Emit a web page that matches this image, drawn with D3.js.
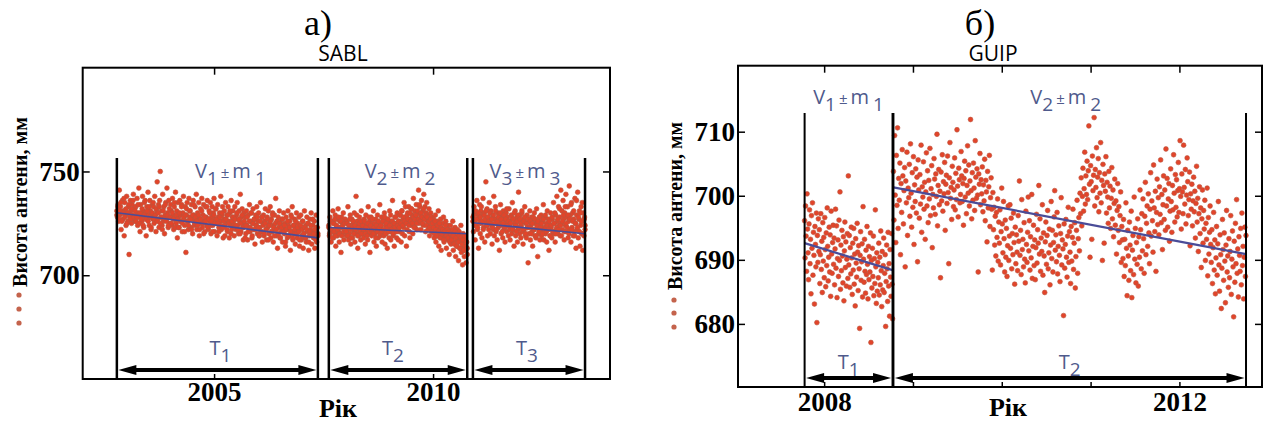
<!DOCTYPE html>
<html>
<head>
<meta charset="utf-8">
<script src="https://cdn.jsdelivr.net/npm/d3@7"></script>
<style>
body { margin: 0; background: #fff; }
svg { display: block; }
</style>
</head>
<body>
<svg id="chart" width="1269" height="423"></svg>
<script>
// ---- SABL (panel a) ----
var sablSegments = [[2002.78, 2007.37], [2007.62, 2010.78], [2010.91, 2013.47]];
var sablTrend = [[730.1, 718.0], [723.0, 720.0], [725.3, 720.0]];
var sablTicksY = [700, 750];
var sablTicksX = [2005, 2010];

// antenna heights, mm; two interleaved passes per segment, each spread evenly over its segment
var sablH1a = "731 728 734 726 741 729 733 722 730 736 727 731 719 735 729 724 738 730 726 733 710 728 736 731 725 734 729 739 727 732 " +
  "726 733 729 737 724 730 742 728 721 734 729 726 738 731 723 735 728 730 719 733 727 740 729 724 736 731 722 729 734 727 " +
  "733 725 738 729 721 731 745 727 734 723 736 750 728 731 724 739 726 733 720 729 735 727 742 730 723 736 728 725 734 731 " +
  "724 737 729 722 733 727 740 725 731 718 735 728 723 736 729 726 734 721 730 738 727 724 733 711 729 735 726 722 737 728 " +
  "731 723 734 727 720 736 729 724 733 726 739 722 730 728 735 719 727 732 725 737 723 729 734 726 721 733 728 724 736 727 " +
  "722 731 726 735 720 728 733 724 730 737 721 727 732 725 719 734 728 723 730 726 738 722 729 733 718 727 731 724 735 726 " +
  "729 721 733 726 718 730 724 736 722 728 731 725 719 733 727 722 729 735 724 720 731 726 739 721 728 732 723 717 730 725 " +
  "728 720 731 724 717 729 723 734 721 726 730 718 725 732 722 727 715 729 724 733 720 726 730 719 723 735 721 728 716 725 " +
  "729 719 726 732 722 717 728 723 731 720 725 733 718 727 721 730 716 724 729 722 737 719 726 713 728 723 731 718 725 721 " +
  "727 716 723 730 720 725 714 728 722 718 731 724 719 726 712 729 721 733 717 724 720 727 715 722 730 718 725 721 728 714 " +
  "723 729 717 722 726 713 720 731 718 724 716 728 721 725 712 719 727 722 730 715 721 724 718 726 713 720 729 716 723 719";
var sablH1b = "729 733 727 731 735 726 730 737 728 732 725 730 734 729 727 732 736 728 731 726 " +
  "728 734 725 730 727 732 724 729 736 727 731 726 733 728 723 730 735 727 729 732 " +
  "726 730 733 725 728 722 731 727 734 726 729 724 732 728 725 730 727 735 723 729 " +
  "727 723 730 726 733 725 728 721 729 732 726 724 731 727 722 729 734 725 728 726 " +
  "724 729 722 727 731 725 720 728 726 733 723 727 730 724 726 721 729 725 732 727 " +
  "725 721 728 724 730 723 726 719 727 722 729 725 731 720 726 728 723 727 724 730 " +
  "722 727 720 725 729 723 726 718 724 728 721 726 723 730 719 725 727 722 724 728 " +
  "723 719 726 721 728 724 720 725 722 727 717 724 726 721 729 723 719 725 722 726 " +
  "720 725 718 723 727 721 724 716 722 726 719 723 721 728 718 724 722 726 720 723 " +
  "721 717 724 719 726 720 723 718 722 725 716 721 724 719 727 720 722 717 723 720";
var sablH2a = "724 719 728 721 716 726 722 731 718 725 720 729 714 723 727 719 732 721 716 726 723 711 728 720 725 730 717 722 727 721 " +
  "719 726 722 733 717 724 720 729 715 723 727 718 725 721 730 716 722 738 720 726 713 724 719 728 722 717 731 723 720 725 " +
  "718 727 722 715 729 721 724 717 733 720 726 711 723 728 719 725 721 731 716 724 720 727 714 722 729 718 725 721 734 719 " +
  "723 728 716 721 726 719 730 715 724 720 727 713 722 725 718 731 721 717 726 723 736 719 724 714 728 721 725 718 730 722 " +
  "717 726 721 729 724 716 731 720 727 723 735 719 725 728 714 722 730 726 733 721 718 727 732 724 729 720 737 725 731 723 " +
  "728 734 722 730 726 741 725 733 729 722 736 727 731 724 739 728 733 721 730 735 726 729 724 732 719 727 730 722 728 725 " +
  "721 727 718 724 729 716 722 726 719 731 714 723 720 727 712 721 725 718 728 716 722 719 726 713 720 724 717 722 710 719 " +
  "724 715 721 718 726 712 720 716 723 709 719 714 722 717 707 721 713 718 724 711 716 705 720 714 709 718 712 706 716 710";
var sablH2b = "723 720 726 722 718 725 721 727 719 724 722 728 720 723 726 719 724 721 725 722 " +
  "721 725 719 724 727 722 718 723 726 720 724 722 729 719 723 725 721 726 720 724 " +
  "722 726 720 723 719 725 728 721 724 722 727 720 723 725 718 724 721 726 723 720 " +
  "724 721 726 722 728 720 725 723 727 721 724 729 722 726 720 725 723 728 721 724 " +
  "726 723 729 725 731 724 728 726 733 725 729 727 724 730 726 732 725 728 723 727 " +
  "729 725 731 727 734 726 730 728 725 732 727 729 724 728 722 726 723 727 721 725 " +
  "723 720 726 722 719 724 721 725 718 723 720 722 717 721 724 719 722 718 721 716 " +
  "720 717 722 719 715 721 718 714 720 716 719 713 718 715 717 712 719 714 716 713";
var sablH3a = "728 721 733 726 717 730 724 736 722 729 713 727 734 720 731 725 718 729 737 723 730 716 726 745 724 732 719 728 722 735 " +
  "726 720 731 724 715 729 722 738 719 727 733 721 725 717 730 723 728 712 726 734 720 724 729 718 731 722 727 716 725 730 " +
  "721 728 724 719 732 726 717 723 729 720 735 722 727 714 725 731 719 724 728 716 722 740 726 720 729 718 724 730 721 715 " +
  "727 722 733 719 725 718 729 723 706 726 720 731 717 724 728 721 714 727 722 730 719 725 718 732 723 709 726 720 728 717 " +
  "724 729 719 726 721 734 717 723 728 720 725 716 731 722 727 712 724 719 730 723 718 727 721 735 720 725 716 729 722 738 " +
  "726 720 733 724 728 719 741 725 731 722 736 727 717 730 724 739 721 728 733 718 726 743 722 729 716 735 723 730 719 727 " +
  "721 737 725 713 729 722 740 718 727 731 714 724 733 720 726 712 730 719 728 722";
var sablH3b = "726 729 724 731 727 723 730 725 728 733 726 722 729 727 731 724 728 726 730 725 " +
  "727 723 729 725 731 722 726 728 724 730 727 721 725 729 723 727 732 724 726 722 " +
  "725 728 722 727 730 724 721 726 729 723 727 725 731 722 726 728 720 725 723 727 " +
  "723 726 720 725 728 722 727 719 724 726 721 728 723 725 720 727 722 729 721 724 " +
  "722 726 719 724 728 721 725 730 720 723 727 722 732 724 719 726 729 721 733 725 " +
  "723 729 720 727 734 722 726 731 719 725 736 723 728 721 730 726 735 720 727 724";

// ---- GUIP (panel b) ----
var guipSegments = [[2007.78, 2008.77], [2008.78, 2012.75]];
var guipTrend = [[692.6, 688.4], [701.3, 690.9]];
var guipTicksY = [680, 690, 700, 710];
var guipTicksX = [2008, 2009, 2010, 2011, 2012];
var guipLabelsX = [2008, 2012];

var guipH1 = "696.1 690.3 698.4 693.7 688.2 700.3 694.8 691.1 686.9 695.6 697.8 689.4 693.2 684.7 696.9 691.8 698.9 687.6 694.3 690.7 683.1 695.2 692.4 688.9 697.3 680.2 693.8 689.6 696.4 691.3 " +
  "694.7 686.3 690.8 697.2 688.5 692.9 684.9 695.8 689.8 693.5 687.2 696.6 691.6 685.8 694.2 689.1 698.1 692.1 686.7 690.4 695.1 688.1 693.9 684.3 697.6 690.9 687.9 692.7 695.4 689.3 " +
  "693.4 686.1 691.7 697.9 688.7 695.3 684.1 690.2 693.1 687.4 696.2 689.9 700.6 685.4 692.3 688.3 694.6 690.6 686.4 693.6 683.6 691.4 695.9 688.8 692.8 685.9 690.1 694.1 687.1 703.1 " +
  "689.2 693.8 685.7 691.9 687.8 695.1 690.3 684.6 692.6 688.4 694.9 686.2 690.9 682.8 693.3 689.5 687.3 695.7 691.2 685.2 692.2 688.6 679.3 690.7 694.4 686.8 689.7 692.5 684.2 698.3 " +
  "690.1 686.5 693.2 688.2 684.8 691.5 687.7 695.2 689.3 683.9 692.1 686.9 690.5 688.1 694.2 677.1 689.9 685.6 691.8 687.4 693.7 684.4 690.2 686.3 697.8 688.9 683.2 691.1 685.1 689.6 " +
  "687.2 692.6 684.5 690.4 686.1 694.5 688.3 682.7 691.3 685.3 689.1 693.4 684.9 687.9 690.8 679.6 686.6 692.3 688.6 683.5 694.3 685.9 689.4 681.2 691.6 687.3 684.3 694.1 686.2 680.8";
var guipH2 = "703.8 696.2 709.4 700.1 692.7 706.3 698.5 710.6 694.9 702.7 699.3 705.1 690.8 701.9 697.4 707.2 703.1 695.6 700.8 704.4 688.9 702.3 698.9 706.8 693.8 701.2 699.7 704.9 696.8 708.1 " +
  "700.4 695.1 703.6 698.2 706.1 692.4 701.7 699.1 704.2 697.3 702.9 689.7 705.6 700.9 696.5 703.3 698.7 707.9 694.3 701.4 699.8 705.3 697.9 702.1 693.2 700.6 706.7 698.4 703.9 695.8 " +
  "702.4 699.5 707.4 696.9 701.1 704.7 691.9 700.2 698.1 705.8 702.6 697.1 703.4 699.9 709.6 695.3 701.6 704.1 698.6 700.7 687.2 703.7 699.2 706.4 697.6 702.2 700.3 705.2 694.6 701.8 " +
  "703.2 698.8 706.2 700.5 689.4 702.8 708.3 699.6 701.3 696.3 704.6 702.1 698.3 700.9 705.9 697.8 703.5 699.4 710.3 701.5 696.7 704.3 702.5 698.9 700.2 706.9 703.1 699.1 701.9 695.4 " +
  "702.7 705.4 699.8 703.9 697.2 701.6 707.8 700.4 704.8 698.4 702.3 711.9 700.8 696.4 703.6 699.3 705.1 701.2 697.7 708.6 702.9 699.6 704.2 700.1 688.1 703.4 701.8 706.6 698.6 702.5 " +
  "700.3 704.5 697.5 701.7 699.2 705.7 696.1 702.4 700.6 692.8 703.8 698.1 701.4 706.3 695.2 699.7 702.8 697.9 688.4 700.5 694.7 698.2 692.3 696.8 690.6 697.4 693.5 699.5 689.8 695.9 " +
  "692.6 697.8 689.2 694.4 701.2 695.6 691.1 699.1 693.3 688.1 696.2 690.4 694.9 687.4 692.2 698.4 689.9 693.7 698.6 691.8 696.5 688.6 694.1 690.8 697.3 692.7 686.2 695.1 689.4 693.9 " +
  "691.2 688.3 696.9 692.9 702.3 690.7 694.6 687.7 699.4 691.6 693.2 688.9 695.8 690.1 686.4 697.6 692.4 689.6 694.3 699.8 691.4 696.1 688.4 693.6 690.3 700.2 687.1 692.1 695.4 689.1 " +
  "693.1 686.9 691.9 697.1 689.5 694.7 692.6 701.6 690.9 696.4 688.2 693.4 691.3 698.6 687.6 694.2 690.6 684.9 692.8 695.9 689.3 693.8 697.7 688.6 691.1 694.8 686.1 692.3 699.1 690.2 " +
  "694.6 688.1 692.7 696.7 700.8 691.5 693.9 689.7 697.4 687.8 692.1 695.3 690.7 686.6 694.1 699.7 689.2 693.1 691.7 681.3 695.6 688.7 692.4 696.3 690.4 687.3 693.7 698.2 689.6 694.4 " +
  "691.2 686.3 695.2 689.8 693.5 697.9 688.5 692.6 695.8 685.6 690.5 694.6 699.3 687.9 693.3 696.6 691.4 700.4 697.2 702.8 695.3 699.9 704.3 697.6 701.1 706.8 698.7 703.1 700.2 705.4 " +
  "699.4 703.9 710.9 701.8 690.4 704.7 702.2 693.2 706.2 700.8 703.2 712.2 698.4 704.1 701.3 707.5 699.7 702.9 705.8 697.5 703.6 700.4 708.3 698.9 702.4 689.9 704.9 701.6 692.6 703.4 " +
  "700.7 706.1 697.3 702.1 699.8 695.7 703.8 698.1 701.5 694.9 699.6 704.4 696.4 700.9 693.6 698.8 702.6 695.4 699.2 690.9 697.7 701.9 694.6 698.3 692.7 696.9 700.6 689.6 695.2 693.1 " +
  "690.2 696.3 687.4 693.2 689.1 698.9 691.8 684.4 694.6 690.6 686.8 695.9 692.3 688.3 697.6 684.1 691.5 693.8 687.7 699.8 690.1 694.9 686.4 692.7 689.3 696.4 685.9 693.6 690.4 700.9 " +
  "694.7 688.6 697.2 691.4 699.5 693.3 687.9 696.8 702.1 690.8 695.7 698.4 692.1 700.3 694.2 689.4 697.9 703.6 693.7 699.2 696.1 691.2 704.8 698.1 694.4 700.7 688.2 697.4 702.6 695.5 " +
  "699.7 693.9 701.4 697.1 705.6 695.8 700.2 691.6 698.6 703.1 696.3 700.9 694.6 707.3 698.4 702.7 695.1 699.5 701.9 692.9 697.6 704.2 699.1 694.3 701.6 697.8 706.4 700.4 695.9 703.3 " +
  "698.2 702.5 696.7 700.8 705.2 697.4 701.1 708.6 699.9 694.8 703.4 700.6 697.2 707.9 701.3 698.7 704.1 695.6 700.1 705.9 702.2 696.9 699.4 703.7 692.2 700.3 697.9 701.8 695.3 699.2 " +
  "702.9 697.5 700.7 693.4 698.8 704.6 695.9 699.6 691.3 697.2 701.4 694.1 698.1 688.8 696.4 700.9 692.6 697.7 694.8 699.3 689.9 695.7 693.2 701.2 687.5 696.6 690.9 694.3 698.4 692.4 " +
  "689.6 694.7 686.3 691.9 697.4 688.4 693.1 684.7 690.3 695.2 687.6 692.5 699.1 689.2 685.1 693.9 690.8 682.4 688.7 696.3 691.6 686.8 694.2 689.8 683.3 692.3 697.7 688.1 690.6 685.7 " +
  "693.3 687.2 691.3 696.9 684.6 690.1 694.5 688.9 681.1 692.9 686.5 695.7 689.4 699.4 687.9 691.7 684.2 693.6 690.7 688.2 694.9 686.1 697.3 689.1 692.1 683.9 690.4 695.1 687.4 693.8";

var yLabel = "Висота антени, мм";
var xLabel = "Рік";

var svg = d3.select('#chart');
svg.append('rect').attr('width', 1269).attr('height', 423).attr('fill', '#fff');

var serif = '"Liberation Serif", "Times New Roman", serif',
    sans = '"Open Sans", "Liberation Sans", sans-serif',
    dotFill = '#e2442a', dotStroke = '#bb543d',
    labelBlue = '#4f5a8c', trendBlue = '#4a4c98';

function parse(s) { return s.trim().split(/\s+/).map(Number); }

// spread values evenly over their segment (daily-type sampling)
function toPoints(values, seg) {
    var n = values.length;
    return values.map(function (v, i) {
        return { t: seg[0] + i * (seg[1] - seg[0]) / (n - 1), h: v };
    });
}

function arrowPath(x1, x2, y) {
    var hl = 18, hh = 5, t = 2;
    return 'M' + x1 + ',' + y +
        'L' + (x1 + hl) + ',' + (y - hh) + 'L' + (x1 + hl) + ',' + (y - t) +
        'L' + (x2 - hl) + ',' + (y - t) + 'L' + (x2 - hl) + ',' + (y - hh) +
        'L' + x2 + ',' + y +
        'L' + (x2 - hl) + ',' + (y + hh) + 'L' + (x2 - hl) + ',' + (y + t) +
        'L' + (x1 + hl) + ',' + (y + t) + 'L' + (x1 + hl) + ',' + (y + hh) + 'Z';
}

// "V1 ± m1" / "T1" style labels with subscripts
function subLabel(g, x, y, letter, idx, withM) {
    var txt = g.append('text')
        .attr('x', x).attr('y', y)
        .attr('text-anchor', 'middle')
        .attr('fill', labelBlue)
        .style('font-family', sans)
        .style('font-size', '20px');
    txt.append('tspan').text(letter);
    txt.append('tspan').attr('dy', 7).style('font-size', '19px').text(idx);
    if (withM) {
        txt.append('tspan').attr('dy', -7).attr('dx', 3).style('font-size', '15px').text('±');
        txt.append('tspan').attr('dx', 3).text('m');
        txt.append('tspan').attr('dy', 7).attr('dx', 4).style('font-size', '19px').text(idx);
    }
}

function drawPanel(cfg) {
    var g = svg.append('g');
    var x = d3.scaleLinear().domain(cfg.xDomain).range([cfg.left, cfg.right]),
        y = d3.scaleLinear().domain(cfg.yDomain).range([cfg.bottom, cfg.top]);

    // titles
    g.append('text').attr('x', cfg.titleX).attr('y', 35).attr('text-anchor', 'middle')
        .style('font-family', serif).style('font-size', '36px').text(cfg.title);
    g.append('text').attr('x', cfg.nameX).attr('y', 61).attr('text-anchor', 'middle')
        .style('font-family', sans).style('font-size', '21px').text(cfg.name);

    // scatter
    cfg.series.forEach(function (passes, k) {
        passes.forEach(function (s) {
            var pts = toPoints(parse(s), cfg.segments[k]);
            g.append('g').selectAll('circle').data(pts).enter().append('circle')
                .attr('cx', function (d) { return x(d.t); })
                .attr('cy', function (d) { return y(d.h); })
                .attr('r', cfg.r)
                .attr('fill', dotFill)
                .attr('stroke', dotStroke)
                .attr('stroke-width', 0.6);
        });
    });

    // trend lines
    cfg.trend.forEach(function (tr, k) {
        var seg = cfg.segments[k];
        g.append('line')
            .attr('x1', x(seg[0])).attr('y1', y(tr[0]))
            .attr('x2', x(seg[1])).attr('y2', y(tr[1]))
            .attr('stroke', trendBlue).attr('stroke-width', cfg.trendW);
    });

    // segment borders, arrows, labels
    var borders = [];
    cfg.segments.forEach(function (seg) { borders.push(seg[0], seg[1]); });
    g.selectAll('line.seg').data(borders).enter().append('line')
        .attr('class', 'seg')
        .attr('x1', function (d) { return x(d); }).attr('x2', function (d) { return x(d); })
        .attr('y1', cfg.segTop).attr('y2', cfg.bottom)
        .attr('stroke', '#000').attr('stroke-width', cfg.segW);

    cfg.segments.forEach(function (seg, k) {
        var x1 = x(seg[0]) + 1.5, x2 = x(seg[1]) - 1.5, cx = (x(seg[0]) + x(seg[1])) / 2;
        g.append('path').attr('d', arrowPath(x1, x2, cfg.arrowY)).attr('fill', '#000');
        subLabel(g, cx + (cfg.tShift[k] || 0), cfg.tY, 'T', k + 1, false);
        subLabel(g, cx + (cfg.vShift[k] || 0), cfg.vY, 'V', k + 1, true);
    });

    // frame
    g.append('rect')
        .attr('x', cfg.left).attr('y', cfg.top)
        .attr('width', cfg.right - cfg.left).attr('height', cfg.bottom - cfg.top)
        .attr('fill', 'none').attr('stroke', '#000').attr('stroke-width', 2);

    // axes, inward ticks
    var yAxisL = g.append('g').attr('transform', 'translate(' + cfg.left + ',0)')
        .call(d3.axisLeft(y).tickValues(cfg.ticksY).tickSize(-7).tickPadding(3).tickFormat(d3.format('d')));
    var yAxisR = g.append('g').attr('transform', 'translate(' + cfg.right + ',0)')
        .call(d3.axisRight(y).tickValues(cfg.ticksY).tickSize(-7).tickFormat(''));
    var xAxisT = g.append('g').attr('transform', 'translate(0,' + cfg.top + ')')
        .call(d3.axisTop(x).tickValues(cfg.ticksX).tickSize(-7).tickFormat(''));
    var xAxisB = g.append('g').attr('transform', 'translate(0,' + cfg.bottom + ')')
        .call(d3.axisBottom(x).tickValues(cfg.ticksX).tickSize(-5).tickPadding(cfg.xPad)
            .tickFormat(function (d) { return cfg.labelsX.indexOf(d) >= 0 ? d : ''; }));
    [yAxisL, yAxisR, xAxisT, xAxisB].forEach(function (a) {
        a.attr('font-family', serif).attr('font-size', 27).attr('font-weight', 'bold');
        a.select('.domain').remove();
        a.selectAll('.tick line').attr('stroke', '#000').attr('stroke-width', 1.5);
        a.selectAll('text').attr('fill', '#000')
            .style('font-family', serif).style('font-size', '27px').style('font-weight', 'bold');
    });

    // axis titles
    g.append('text').attr('x', cfg.rikX).attr('y', cfg.rikY).attr('text-anchor', 'middle')
        .style('font-family', serif).style('font-size', '26px').style('font-weight', 'bold')
        .text(xLabel);
    g.append('text')
        .attr('transform', 'translate(' + cfg.yLabX + ',' + cfg.yLabY + ') rotate(-90)')
        .attr('text-anchor', 'middle')
        .attr('textLength', cfg.yLabLen).attr('lengthAdjust', 'spacingAndGlyphs')
        .style('font-family', serif).style('font-size', '20px').style('font-weight', 'bold')
        .text(yLabel);
    cfg.legendDots.forEach(function (dy) {
        g.append('circle').attr('cx', cfg.yLabX - 8).attr('cy', dy).attr('r', 2.6).attr('fill', '#c4634c');
    });
}

drawPanel({
    title: 'а)', titleX: 318, name: 'SABL', nameX: 343,
    xDomain: [2002, 2014.04], yDomain: [650, 800],
    left: 82.7, right: 610, top: 67.7, bottom: 379,
    series: [[sablH1a, sablH1b], [sablH2a, sablH2b], [sablH3a, sablH3b]],
    segments: sablSegments, trend: sablTrend,
    ticksY: sablTicksY, ticksX: sablTicksX, labelsX: sablTicksX,
    r: 2.4, trendW: 1.6, segW: 2.5, segTop: 158,
    arrowY: 370, tY: 355, vY: 178, tShift: [3, -5, -2], vShift: [13, 2, -4],
    xPad: 3, rikX: 338, rikY: 417,
    yLabX: 27, yLabY: 202, yLabLen: 170, legendDots: [295, 309, 323]
});

drawPanel({
    title: 'б)', titleX: 980, name: 'GUIP', nameX: 993,
    xDomain: [2007.03, 2012.93], yDomain: [670.15, 720.3],
    left: 738, right: 1262, top: 65.7, bottom: 387,
    series: [[guipH1], [guipH2]], segments: guipSegments, trend: guipTrend,
    ticksY: guipTicksY, ticksX: guipTicksX, labelsX: guipLabelsX,
    r: 2.4, trendW: 2.2, segW: 2, segTop: 113,
    arrowY: 378, tY: 369, vY: 104, tShift: [0, 0], vShift: [0, -4],
    xPad: 5, rikX: 1008, rikY: 416,
    yLabX: 682, yLabY: 206, yLabLen: 168, legendDots: [300, 313, 327]
});
</script>
</body>
</html>
